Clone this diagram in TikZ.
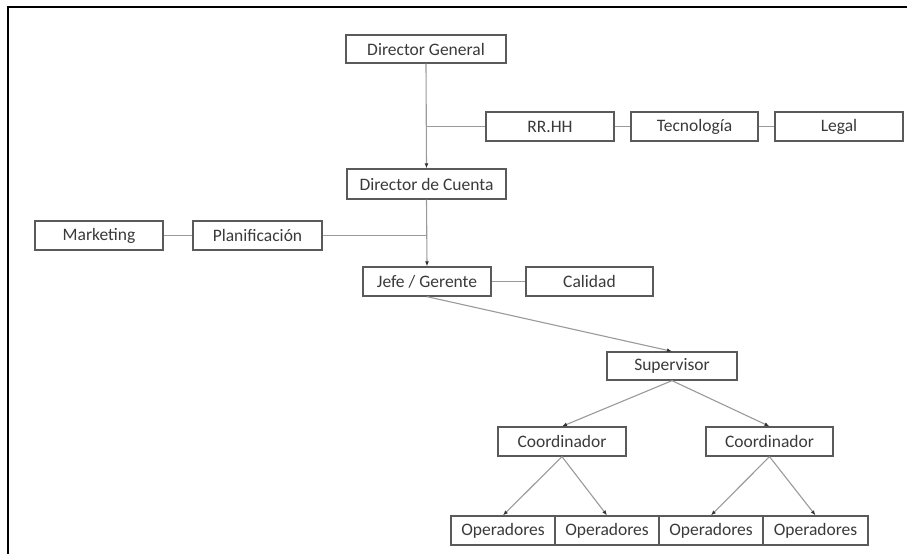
\documentclass[tikz,border=0pt]{standalone}
\usepackage{fontspec}
\setmainfont{Carlito}
\usetikzlibrary{arrows.meta}
\definecolor{boxline}{HTML}{5A5A5A}
\definecolor{linkline}{HTML}{9A9A9A}
\definecolor{txt}{HTML}{3A3A3A}
\begin{document}
\begin{tikzpicture}[x=1pt,y=-1pt,
  orgbox/.style={draw=boxline,line width=1.3pt,fill=white,inner sep=0pt,
    minimum height=29pt,text=txt,font=\fontsize{17.5}{20}\selectfont},
  link/.style={draw=linkline,line width=1.1pt},
  arrowlink/.style={link,-{Latex[length=5pt,width=4pt,color=black!80]}}]
\useasboundingbox[fill=white] (0,0) rectangle (907,554);
% outer frame edges
\draw[line width=2pt,black] (8,554) -- (8,7) -- (907,7);

% top level
\node[orgbox,minimum width=160pt,minimum height=28pt] (dg) at (426,49) {Director General};
\node[orgbox,minimum width=128pt] (rrhh) at (550,126.5) {RR.HH};
\node[orgbox,minimum width=127pt] (tec) at (694.5,126.5) {Tecnología};
\node[orgbox,minimum width=128pt] (legal) at (839,126.5) {Legal};
\node[orgbox,minimum width=159pt,minimum height=30pt] (dc) at (426.5,184) {Director de Cuenta};
\node[orgbox,minimum width=128pt] (mkt) at (99,235.5) {Marketing};
\node[orgbox,minimum width=129pt] (plan) at (257.5,235.5) {Planificación};
\node[orgbox,minimum width=128pt] (jefe) at (427,281.5) {Jefe / Gerente};
\node[orgbox,minimum width=127pt] (cal) at (589.5,281.5) {Calidad};
\node[orgbox,minimum width=130pt,minimum height=28pt] (sup) at (672,366) {Supervisor};
\node[orgbox,minimum width=128pt] (co1) at (562,441.5) {Coordinador};
\node[orgbox,minimum width=127pt] (co2) at (769.5,441.5) {Coordinador};
\node[orgbox,minimum width=104pt] (op1) at (503,530.5) {Operadores};
\node[orgbox,minimum width=104pt] (op2) at (607,530.5) {Operadores};
\node[orgbox,minimum width=104pt] (op3) at (711,530.5) {Operadores};
\node[orgbox,minimum width=105pt] (op4) at (815.5,530.5) {Operadores};

% junctions on the vertical trunk
\coordinate (j1) at (dg.south |- rrhh.west);
\coordinate (j2) at (dc.south |- plan.east);

% plain links
\draw[link] (j1) -- (rrhh.west);
\draw[link] (rrhh.east) -- (tec.west);
\draw[link] (tec.east) -- (legal.west);
\draw[link] (mkt.east) -- (plan.west);
\draw[link] (plan.east) -- (j2);
\draw[link] (jefe.east) -- (cal.west);

% reporting arrows
\draw[arrowlink] (dg.south) -- (dc.north);
\draw[arrowlink] (dc.south) -- (jefe.north);
\draw[arrowlink] (jefe.south) -- (sup.north);
\draw[arrowlink] (sup.south) -- (co1.north);
\draw[arrowlink] (sup.south) -- (co2.north);
\draw[arrowlink] (co1.south) -- (op1.north);
\draw[arrowlink] (co1.south) -- (op2.north);
\draw[arrowlink] (co2.south) -- (op3.north);
\draw[arrowlink] (co2.south) -- (op4.north);
\end{tikzpicture}
\end{document}
